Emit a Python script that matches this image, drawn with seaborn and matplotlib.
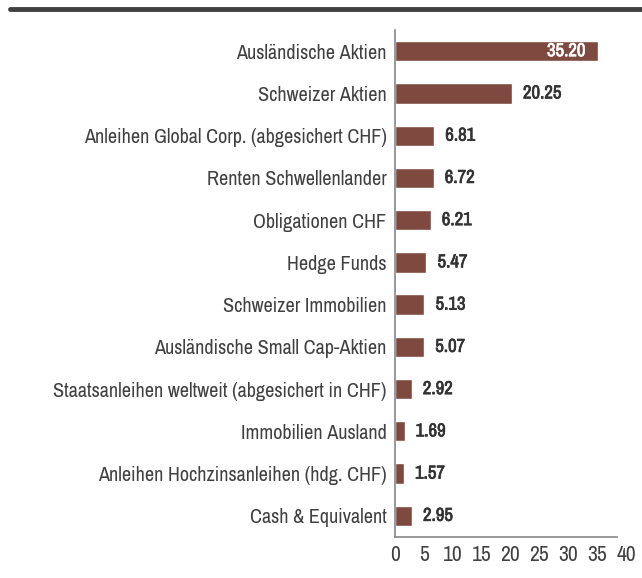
import pandas as pd
import seaborn as sns
import matplotlib.pyplot as plt
import matplotlib.patheffects as pe
from matplotlib.lines import Line2D

categories = [
    "Ausländische Aktien",
    "Schweizer Aktien",
    "Anleihen Global Corp. (abgesichert CHF)",
    "Renten Schwellenlander",
    "Obligationen CHF",
    "Hedge Funds",
    "Schweizer Immobilien",
    "Ausländische Small Cap-Aktien",
    "Staatsanleihen weltweit (abgesichert in CHF)",
    "Immobilien Ausland",
    "Anleihen Hochzinsanleihen (hdg. CHF)",
    "Cash & Equivalent",
]
values = [35.20, 20.25, 6.81, 6.72, 6.21, 5.47, 5.13, 5.07, 2.92, 1.69, 1.57, 2.95]
x_ticks = [0, 5, 10, 15, 20, 25, 30, 35, 40]

df = pd.DataFrame({"Kategorie": categories, "Wert": values})

sns.set_style("white")
plt.rcParams["font.family"] = ["Archivo Narrow", "DejaVu Sans"]

text_col = "#404040"
bar_col = "#7e4a40"

fig = plt.figure(figsize=(6.42, 5.78), dpi=100)
ax = fig.add_axes([0.615, 0.071, 0.36, 0.877])

sns.barplot(data=df, x="Wert", y="Kategorie", color=bar_col, width=0.48,
            saturation=1, ax=ax)

ax.set_xlim(0, 40)
ax.set_xticks(x_ticks)
ax.set_xticklabels([str(t) for t in x_ticks], fontsize=15.5, color=text_col)
ax.set_yticklabels(categories, fontsize=14.5, color=text_col)
ax.tick_params(axis="both", length=0, pad=6)
ax.set_xlabel("")
ax.set_ylabel("")

for s in ["top", "right"]:
    ax.spines[s].set_visible(False)
for s in ["left", "bottom"]:
    ax.spines[s].set_color("#888888")
    ax.spines[s].set_linewidth(1.2)
ax.spines["bottom"].set_bounds(0, 38.5)

# Archivo Narrow has no bold here, so thicken the value labels with a stroke
for i, v in enumerate(values):
    if v > 30:
        col, off, ha = "white", -9, "right"
    else:
        col, off, ha = "#333333", 8, "left"
    ax.annotate(f"{v:.2f}", (v, i), xytext=(off, 0), textcoords="offset points",
                ha=ha, va="center", color=col, fontsize=13.5,
                path_effects=[pe.withStroke(linewidth=0.5, foreground=col)])

fig.add_artist(Line2D([0.016, 1.0], [0.984, 0.984], color="#404040",
                      linewidth=3.5, transform=fig.transFigure))

plt.savefig("out.png", dpi=100)
